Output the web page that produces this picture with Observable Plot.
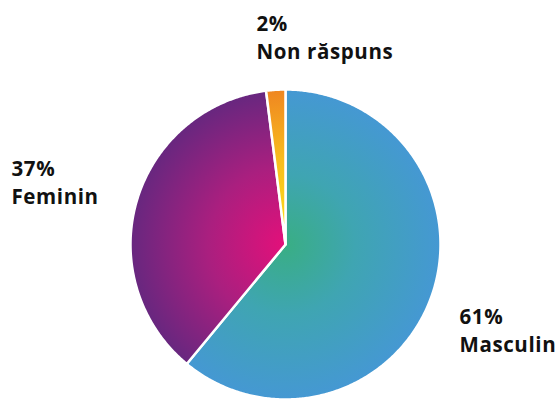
<!DOCTYPE html>
<html>
<head>
<meta charset="utf-8">
<script src="https://cdn.jsdelivr.net/npm/d3@7"></script>
<script src="https://cdn.jsdelivr.net/npm/@observablehq/plot@0.6"></script>
<style>
  html, body { margin: 0; padding: 0; background: #fff; }
  #chart svg { display: block; }
  #chart svg text { letter-spacing: 0.6px; }
</style>
</head>
<body>
<div id="chart"></div>
<script>
// Data
const categories = ["Masculin", "Feminin", "Non răspuns"];
const percents = [61, 37, 2];
const labelTexts = ["61%\nMasculin", "37%\nFeminin", "2%\nNon răspuns"];

// Styles (inner -> outer radial gradient per slice)
const gradientStops = [
  [["0%", "#39ae84"], ["45%", "#3fa5b2"], ["100%", "#4598d3"]],
  [["0%", "#e3107a"], ["50%", "#aa1f7f"], ["100%", "#67277f"]],
  [["0%", "#fde31a"], ["55%", "#f8bc1e"], ["100%", "#ef8621"]]
];
const labelPos = [[459, 303], [11, 155], [256, 10]];

const W = 558, H = 399;
const cx = 285, cy = 244, R = 155;

const arcs = d3.pie().sort(null).value(d => d)(percents);

function slicePolygon(a) {
  const pts = [{x: 0, y: 0}];
  const n = Math.max(2, Math.ceil((a.endAngle - a.startAngle) / (Math.PI / 360)));
  for (let i = 0; i <= n; i++) {
    const t = a.startAngle + (a.endAngle - a.startAngle) * i / n;
    pts.push({x: Math.sin(t), y: Math.cos(t)});
  }
  pts.push({x: 0, y: 0});
  return pts;
}

const gradIds = categories.map((c, i) => "grad" + i);

const defsMark = (index, scales) => {
  const x0 = scales.x(0), y0 = scales.y(0);
  const r = Math.abs(scales.x(1) - scales.x(0));
  const defs = d3.create("svg:defs");
  gradientStops.forEach((stops, i) => {
    const g = defs.append("radialGradient")
      .attr("id", gradIds[i])
      .attr("gradientUnits", "userSpaceOnUse")
      .attr("cx", x0).attr("cy", y0).attr("r", r);
    stops.forEach(([o, c]) => g.append("stop").attr("offset", o).attr("stop-color", c));
  });
  return defs.node();
};

const sliceMarks = arcs.map((a, i) =>
  Plot.line(slicePolygon(a), {
    x: "x", y: "y",
    fill: `url(#${gradIds[i]})`,
    stroke: "white",
    strokeWidth: 2.5,
    strokeLinejoin: "round",
    curve: "linear"
  })
);

const textMarks = labelTexts.map((t, i) =>
  Plot.text([t], {
    text: d => d,
    frameAnchor: "top-left",
    dx: labelPos[i][0],
    dy: labelPos[i][1],
    textAnchor: "start",
    lineAnchor: "top",
    lineHeight: 1.38,
    fontSize: 20.5,
    fontWeight: 700,
    fill: "#111"
  })
);

const chart = Plot.plot({
  width: W,
  height: H,
  margin: 0,
  style: {fontFamily: "'Open Sans', sans-serif", background: "#fff", overflow: "visible"},
  x: {domain: [-1, 1], range: [cx - R, cx + R], axis: null},
  y: {domain: [-1, 1], range: [cy + R, cy - R], axis: null},
  marks: [defsMark, ...sliceMarks, ...textMarks]
});

document.getElementById("chart").appendChild(chart);
</script>
</body>
</html>
